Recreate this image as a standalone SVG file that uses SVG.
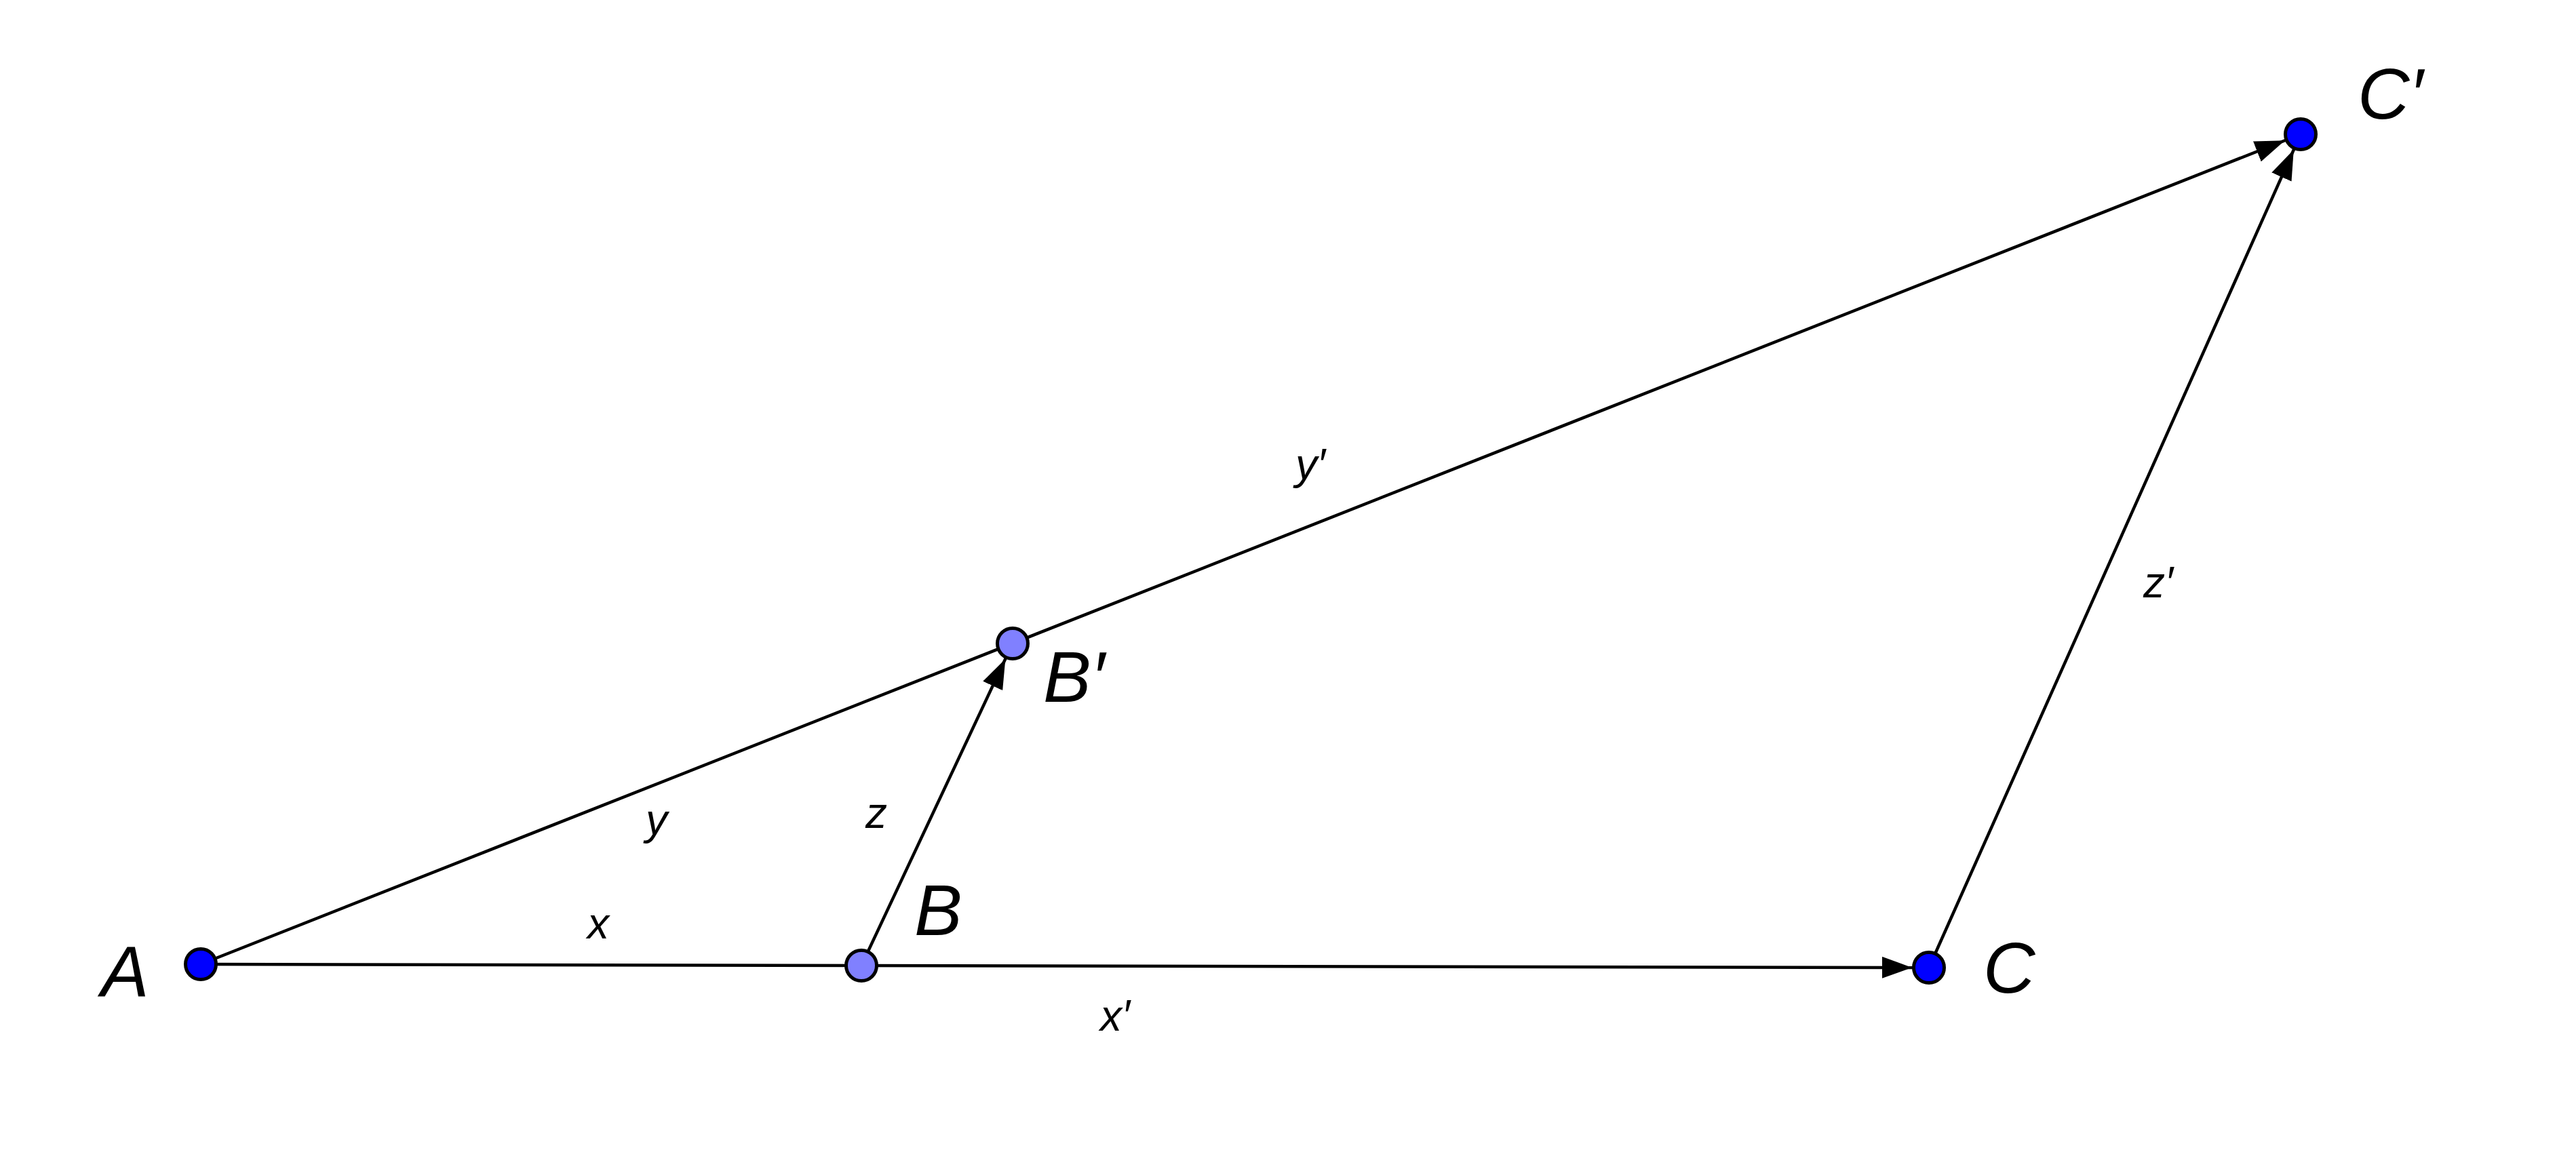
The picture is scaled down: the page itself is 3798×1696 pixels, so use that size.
<svg xmlns="http://www.w3.org/2000/svg" width="3798" height="1696" viewBox="0 0 3798 1696">
<style>
.edge{stroke:#000;stroke-width:4.5;fill:none}
.pt{stroke:#000;stroke-width:5}
.dark{fill:#0000FF}
.light{fill:#8080FF}
.big{font-family:"Liberation Sans",Arial,sans-serif;font-style:italic;font-size:106px;fill:#000}
.small{font-family:"Liberation Sans",Arial,sans-serif;font-style:italic;font-size:64px;fill:#000}
</style>
<defs>
<marker id="arr" markerUnits="userSpaceOnUse" markerWidth="70" markerHeight="32" viewBox="0 0 70 32" refX="69" refY="16" orient="auto">
<path d="M0,0 L44,16 L0,32 z" fill="#000"/>
</marker>
</defs>
<rect width="3798" height="1696" fill="#fff"/>
<g id="connectors">
<line class="edge" x1="296" y1="1422" x2="2844" y2="1427" marker-end="url(#arr)"/>
<line class="edge" x1="296" y1="1422" x2="3392" y2="198" marker-end="url(#arr)"/>
<line class="edge" x1="1270" y1="1424" x2="1493" y2="949" marker-end="url(#arr)"/>
<line class="edge" x1="2844" y1="1427" x2="3392" y2="198" marker-end="url(#arr)"/>
</g>
<g id="edge-labels">
<text class="small" x="866" y="1384">x</text>
<text class="small" x="952" y="1231">y</text>
<text class="small" x="1276" y="1221">z</text>
<text class="small" x="1622" y="1520">x′</text>
<text class="small" x="1910" y="707">y′</text>
<text class="small" x="3160" y="881">z′</text>
</g>
<g id="node-A">
<circle class="pt dark" cx="296" cy="1422" r="22.5"/>
<text class="big" x="149" y="1469">A</text>
</g>
<g id="node-B">
<circle class="pt light" cx="1270" cy="1424" r="22.5"/>
<text class="big" x="1348" y="1379">B</text>
</g>
<g id="node-Bp">
<circle class="pt light" cx="1493" cy="949" r="22.5"/>
<text class="big" x="1538" y="1035">B′</text>
</g>
<g id="node-C">
<circle class="pt dark" cx="2844" cy="1427" r="22.5"/>
<text class="big" x="2924" y="1464">C</text>
</g>
<g id="node-Cp">
<circle class="pt dark" cx="3392" cy="198" r="22.5"/>
<text class="big" x="3476" y="175">C′</text>
</g>
</svg>
